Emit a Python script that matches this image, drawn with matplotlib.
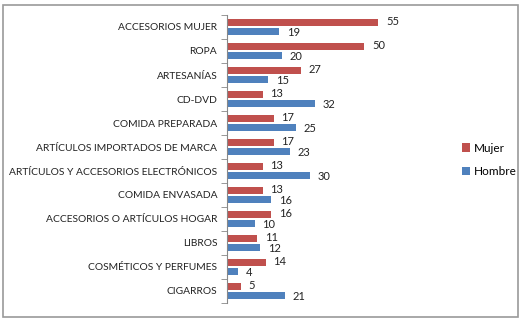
import numpy as np
import matplotlib.pyplot as plt
from matplotlib.patches import Rectangle

# ============================================================
# DATEN
# ============================================================
categorias = ["ACCESORIOS MUJER", "ROPA", "ARTESANÍAS", "CD-DVD",
              "COMIDA PREPARADA", "ARTÍCULOS IMPORTADOS DE MARCA",
              "ARTÍCULOS Y ACCESORIOS ELECTRÓNICOS", "COMIDA ENVASADA",
              "ACCESORIOS O ARTÍCULOS HOGAR", "LIBROS",
              "COSMÉTICOS Y PERFUMES", "CIGARROS"]
mujer = [55, 50, 27, 13, 17, 17, 13, 13, 16, 11, 14, 5]
hombre = [19, 20, 15, 32, 25, 23, 30, 16, 10, 12, 4, 21]

ROJO = '#C0504D'
AZUL = '#4F81BD'

plt.rcParams['font.family'] = ['Lato', 'DejaVu Sans']

fig = plt.figure(figsize=(5.25, 3.22), dpi=100)
W, H = 525, 322
ax = fig.add_axes([227 / W, 1 - 303 / H, (392 - 227) / W, (303 - 15) / H])

y = np.arange(len(categorias))[::-1].astype(float)
h = 0.29
off = 0.19

b1 = ax.barh(y + off, mujer, height=h, color=ROJO, label='Mujer')
b2 = ax.barh(y - off, hombre, height=h, color=AZUL, label='Hombre')

# etiquetas de valor: un poco separadas en vertical para que no se pisen
for bars, vals, dy in ((b1, mujer, 0.8), (b2, hombre, -0.8)):
    for bar, v in zip(bars, vals):
        ax.annotate(str(v), (v, bar.get_y() + bar.get_height() / 2),
                    xytext=(5.5, dy), textcoords='offset points',
                    va='center', ha='left', fontsize=8, color='#222222')

ax.set_xlim(0, 60)
ax.set_ylim(-0.5, len(categorias) - 0.5)
ax.set_yticks(y)
ax.set_yticklabels(categorias, fontsize=7.4, color='#222222')
ax.tick_params(axis='y', which='major', length=0, pad=7)
ax.set_yticks(np.arange(len(categorias) + 1) - 0.5, minor=True)
ax.tick_params(axis='y', which='minor', length=4, color='#888888')
ax.set_xticks([])

for s in ('top', 'right', 'bottom'):
    ax.spines[s].set_visible(False)
ax.spines['left'].set_color('#888888')
ax.spines['left'].set_linewidth(0.8)

fig.legend(handles=[b1, b2], loc='center left',
           bbox_to_anchor=(451 / W, 1 - 160 / H), frameon=False,
           fontsize=8.5, handlelength=0.7, handleheight=0.7,
           handletextpad=0.3, labelspacing=1.1)

# marco del gráfico
fig.patches.append(Rectangle((3 / W, 5 / H), 515 / W, 312 / H,
                             transform=fig.transFigure, fill=False,
                             edgecolor='#9a9a9a', linewidth=1.2))

fig.savefig('out.png', dpi=100)
